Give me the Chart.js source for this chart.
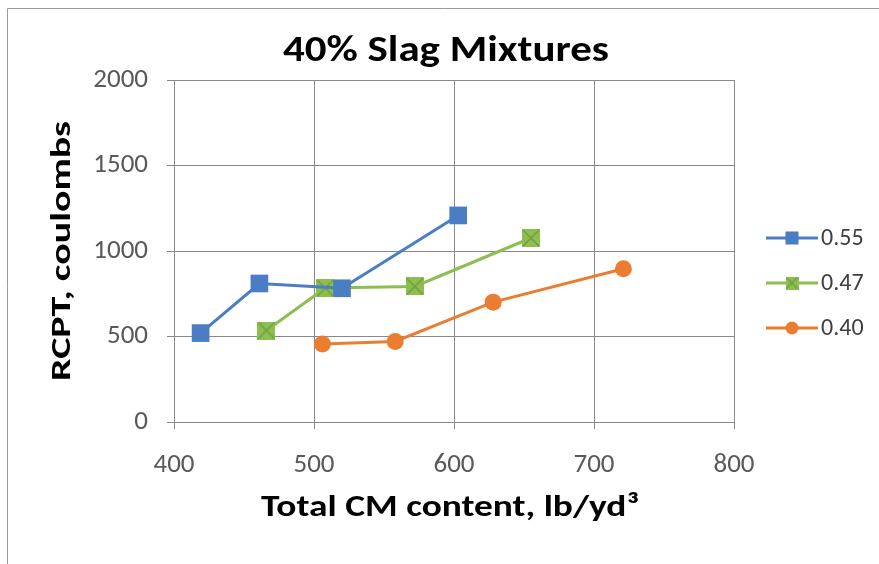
<!DOCTYPE html>
<html>
<head>
<meta charset="utf-8">
<script src="https://cdn.jsdelivr.net/npm/chart.js@4/dist/chart.umd.min.js"></script>
<style>
  html, body { margin: 0; padding: 0; background: #ffffff; }
  #wrap { width: 879px; height: 564px; }
</style>
</head>
<body>
<div id="wrap"><canvas id="c" width="879" height="564"></canvas></div>
<script>
// Water/cement ratio series: total cementitious content (lb/yd3) vs. RCPT charge (coulombs)
const seriesNames = ['0.55', '0.47', '0.40'];
const cm055 = [419, 461, 520, 603];
const rcpt055 = [520, 810, 782, 1208];
const cm047 = [466, 508, 572, 655];
const rcpt047 = [535, 783, 793, 1076];
const cm040 = [506, 558, 628, 721];
const rcpt040 = [456, 471, 701, 896];
const xTicks = [400, 500, 600, 700, 800];
const yTicks = [0, 500, 1000, 1500, 2000];

const chartTitle = '40% Slag Mixtures';
const xTitle = 'Total CM content, lb/yd³';
const yTitle = 'RCPT, coulombs';

const FONT = 'Carlito, Calibri, Lato, sans-serif';
const BLUE = '#4A7DC4';
const GREEN = '#8CBF50';
const ORANGE = '#EB7D31';
const GRID = '#898989';

function toPoints(xs, ys) {
  return xs.map((x, i) => ({ x: x, y: ys[i] }));
}

// square marker with a diagonal cross, used for the 0.47 series
function crossSquare(size, fill, stroke) {
  const cv = document.createElement('canvas');
  cv.width = size; cv.height = size;
  const g = cv.getContext('2d');
  g.fillStyle = fill;
  g.fillRect(0, 0, size, size);
  g.strokeStyle = stroke;
  g.lineWidth = 1.3;
  g.beginPath();
  g.moveTo(1, 1); g.lineTo(size - 1, size - 1);
  g.moveTo(size - 1, 1); g.lineTo(1, size - 1);
  g.stroke();
  return cv;
}
const greenMark = crossSquare(18, GREEN, '#6F9C3C');
const greenMarkSmall = crossSquare(13, GREEN, '#6F9C3C');

// frame of the chart object (top and left edges)
const framePlugin = {
  id: 'frame',
  beforeDraw(chart) {
    const ctx = chart.ctx;
    ctx.save();
    ctx.strokeStyle = '#9a9a9a';
    ctx.lineWidth = 1;
    ctx.beginPath();
    ctx.moveTo(7.5, 564);
    ctx.lineTo(7.5, 8.5);
    ctx.lineTo(879, 8.5);
    ctx.stroke();
    ctx.restore();
  }
};

// wide bold headings: text set at a given size and widened to a given run length
function wideText(ctx, text, cx, baseY, size, runLength, vertical) {
  ctx.save();
  ctx.font = 'bold ' + size + 'px ' + FONT;
  const natural = ctx.measureText(text).width;
  ctx.translate(cx, baseY);
  if (vertical) ctx.rotate(-Math.PI / 2);
  ctx.scale(runLength / natural, 1);
  ctx.fillStyle = '#000000';
  ctx.textAlign = 'center';
  ctx.textBaseline = 'alphabetic';
  ctx.fillText(text, 0, 0);
  ctx.restore();
}

const headings = {
  id: 'headings',
  afterDraw(chart) {
    const ctx = chart.ctx;
    const a = chart.chartArea;
    wideText(ctx, chartTitle, 446, 61, 36, 326, false);
    wideText(ctx, xTitle, (a.left + a.right) / 2 - 4, 516, 31, 378, false);
    // rotated: the baseline point is given as (x of baseline, centre along the axis)
    ctx.save();
    ctx.translate(70, (a.top + a.bottom) / 2);
    wideText(ctx, yTitle, 0, 0, 29, 260, true);
    ctx.restore();
  }
};

// legend on the right: line segment with marker, then the label
const sideLegend = {
  id: 'sideLegend',
  afterDraw(chart) {
    const ctx = chart.ctx;
    const rows = [238, 283, 328];
    const x0 = 766, x1 = 818, xm = 792;
    chart.data.datasets.forEach((ds, i) => {
      const y = rows[i];
      ctx.save();
      ctx.strokeStyle = ds.borderColor;
      ctx.lineWidth = 3;
      ctx.beginPath();
      ctx.moveTo(x0, y); ctx.lineTo(x1, y);
      ctx.stroke();
      ctx.fillStyle = ds.borderColor;
      if (i === 0) {
        ctx.fillRect(xm - 6.5, y - 6.5, 13, 13);
      } else if (i === 1) {
        ctx.drawImage(greenMarkSmall, xm - 6.5, y - 6.5);
      } else {
        ctx.beginPath();
        ctx.arc(xm, y, 6.5, 0, Math.PI * 2);
        ctx.fill();
      }
      ctx.fillStyle = '#404040';
      ctx.font = '24px ' + FONT;
      ctx.textAlign = 'left';
      ctx.textBaseline = 'middle';
      ctx.fillText(ds.label, 821, y + 1);
      ctx.restore();
    });
  }
};

new Chart(document.getElementById('c'), {
  type: 'line',
  data: {
    datasets: [
      {
        label: seriesNames[0],
        data: toPoints(cm055, rcpt055),
        borderColor: BLUE, backgroundColor: BLUE,
        borderWidth: 3, pointStyle: 'rect', pointRadius: 12.5,
        pointBorderWidth: 0
      },
      {
        label: seriesNames[1],
        data: toPoints(cm047, rcpt047),
        borderColor: GREEN, backgroundColor: GREEN,
        borderWidth: 3, pointStyle: greenMark, pointRadius: 9,
        pointBorderWidth: 0
      },
      {
        label: seriesNames[2],
        data: toPoints(cm040, rcpt040),
        borderColor: ORANGE, backgroundColor: ORANGE,
        borderWidth: 3, pointStyle: 'circle', pointRadius: 8.5,
        pointBorderWidth: 0
      }
    ]
  },
  options: {
    responsive: false,
    animation: false,
    layout: { padding: { left: 13, right: 0, top: 80, bottom: 0 } },
    plugins: {
      legend: { display: false },
      tooltip: { enabled: false },
      title: { display: false }
    },
    scales: {
      x: {
        type: 'linear',
        min: 400, max: 800,
        afterBuildTicks(scale) { scale.ticks = xTicks.map(v => ({ value: v })); },
        afterFit(scale) { scale.height = 142; },
        grid: { color: GRID, lineWidth: 1, tickLength: 7, drawTicks: true },
        border: { color: GRID, width: 1 },
        ticks: {
          color: '#595959', padding: 20, font: { family: FONT, size: 27 },
          callback: v => String(v)
        }
      },
      y: {
        type: 'linear',
        min: 0, max: 2000,
        afterBuildTicks(scale) { scale.ticks = yTicks.map(v => ({ value: v })); },
        afterFit(scale) { scale.width = 161; },
        grid: { color: GRID, lineWidth: 1, tickLength: 7, drawTicks: true },
        border: { color: GRID, width: 1 },
        ticks: {
          color: '#595959', padding: 19, font: { family: FONT, size: 27 },
          callback: v => String(v)
        }
      },
      // empty right-hand strip that holds the legend
      side: {
        type: 'linear',
        position: 'right',
        display: true,
        afterFit(scale) { scale.width = 145; },
        grid: { display: false, drawTicks: false },
        border: { display: false },
        ticks: { display: false }
      }
    }
  },
  plugins: [framePlugin, headings, sideLegend]
});
</script>
</body>
</html>
